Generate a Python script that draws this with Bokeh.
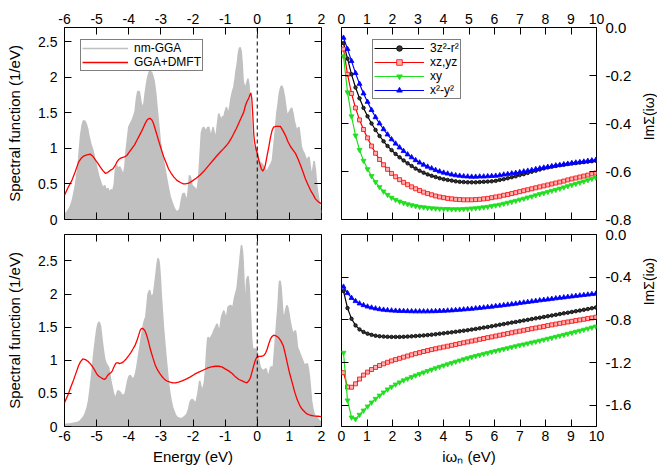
import math
from bokeh.plotting import figure
from bokeh.layouts import gridplot
from bokeh.models import (Range1d, LinearAxis, FixedTicker, CustomJSTickFormatter,
                          CustomLabelingPolicy, Span, Legend, LegendItem, Label,
                          ColumnDataSource)
from bokeh.embed import file_html
from bokeh.resources import INLINE

FONT = "Liberation Sans"

# ---------------- data ----------------
energy_ticks = [-6, -5, -4, -3, -2, -1, 0, 1, 2]
dos_ticks = [0, 0.5, 1, 1.5, 2, 2.5]
freq_ticks = [0, 1, 2, 3, 4, 5, 6, 7, 8, 9, 10]
sigma_ticks_top = [0.0, -0.2, -0.4, -0.6, -0.8]
sigma_ticks_bottom = [0.0, -0.4, -0.8, -1.2, -1.6]

# top panel: nm-GGA spectral function (energy, value)
nm_gga_top = [
    (-6.0, 0.07), (-5.9, 0.12), (-5.82, 0.18), (-5.75, 0.28), (-5.67, 0.46), (-5.6, 0.68),
    (-5.56, 0.85), (-5.5, 1.18), (-5.45, 1.33), (-5.41, 1.39), (-5.36, 1.38), (-5.33, 1.35),
    (-5.28, 1.28), (-5.25, 1.2), (-5.18, 1.06), (-5.12, 0.98), (-5.06, 0.86), (-5.0, 0.74),
    (-4.94, 0.62), (-4.89, 0.55), (-4.84, 0.48), (-4.8, 0.44), (-4.75, 0.48), (-4.7, 0.41),
    (-4.65, 0.44), (-4.6, 0.38), (-4.55, 0.42), (-4.5, 0.4), (-4.45, 0.5), (-4.42, 0.68),
    (-4.38, 0.76), (-4.33, 0.72), (-4.28, 0.74), (-4.22, 0.68), (-4.17, 0.62), (-4.12, 0.75),
    (-4.08, 0.98), (-4.0, 1.3), (-3.95, 1.35), (-3.9, 1.39), (-3.85, 1.45), (-3.8, 1.53),
    (-3.76, 1.7), (-3.72, 1.8), (-3.67, 1.8), (-3.62, 1.65), (-3.57, 1.57), (-3.53, 1.62),
    (-3.49, 1.77), (-3.45, 1.9), (-3.41, 2.0), (-3.36, 2.08), (-3.32, 2.08), (-3.28, 2.06),
    (-3.24, 2.0), (-3.21, 1.95), (-3.16, 1.78), (-3.12, 1.58), (-3.07, 1.35), (-3.02, 1.11),
    (-2.97, 0.95), (-2.92, 0.83), (-2.86, 0.68), (-2.81, 0.55), (-2.76, 0.43), (-2.71, 0.32),
    (-2.65, 0.24), (-2.6, 0.18), (-2.55, 0.13), (-2.5, 0.11), (-2.45, 0.12), (-2.41, 0.15),
    (-2.36, 0.28), (-2.32, 0.36), (-2.27, 0.37), (-2.23, 0.31), (-2.19, 0.25), (-2.15, 0.4),
    (-2.11, 0.62), (-2.08, 0.6), (-2.03, 0.48), (-1.98, 0.46), (-1.92, 0.43), (-1.875, 0.41),
    (-1.83, 0.55), (-1.79, 0.83), (-1.74, 1.22), (-1.7, 1.28), (-1.67, 1.3), (-1.62, 1.26),
    (-1.58, 1.25), (-1.55, 1.29), (-1.51, 1.3), (-1.47, 1.22), (-1.44, 1.16), (-1.4, 1.25),
    (-1.375, 1.3), (-1.33, 1.2), (-1.3, 1.11), (-1.25, 1.3), (-1.2, 1.49), (-1.16, 1.44),
    (-1.125, 1.39), (-1.08, 1.45), (-1.04, 1.44), (-1.0, 1.52), (-0.96, 1.58), (-0.92, 1.52),
    (-0.89, 1.49), (-0.85, 1.6), (-0.81, 1.72), (-0.77, 1.8), (-0.73, 1.86), (-0.69, 1.98),
    (-0.66, 2.09), (-0.62, 2.2), (-0.59, 2.33), (-0.56, 2.4), (-0.53, 2.42), (-0.5, 2.36),
    (-0.47, 2.2), (-0.44, 1.95), (-0.4, 1.88), (-0.36, 1.86), (-0.32, 1.93), (-0.29, 1.98),
    (-0.26, 1.9), (-0.23, 1.72), (-0.2, 1.45), (-0.17, 1.25), (-0.13, 1.05), (-0.09, 1.0),
    (-0.05, 1.02), (0.0, 0.97), (0.05, 0.83), (0.1, 0.8), (0.15, 0.78), (0.21, 0.74),
    (0.25, 0.7), (0.29, 0.67), (0.33, 0.7), (0.375, 0.74), (0.42, 0.78), (0.47, 0.83),
    (0.52, 1.05), (0.57, 1.3), (0.61, 1.5), (0.65, 1.63), (0.69, 1.78), (0.73, 1.86),
    (0.76, 1.88), (0.8, 1.84), (0.85, 1.72), (0.9, 1.55), (0.94, 1.44), (0.98, 1.5),
    (1.02, 1.53), (1.07, 1.57), (1.11, 1.5), (1.15, 1.39), (1.2, 1.3), (1.23, 1.25),
    (1.27, 1.28), (1.3, 1.3), (1.34, 1.15), (1.375, 1.02), (1.42, 0.96), (1.46, 0.93),
    (1.5, 0.88), (1.54, 0.83), (1.58, 0.86), (1.61, 0.88), (1.65, 0.75), (1.69, 0.6),
    (1.73, 0.7), (1.77, 0.82), (1.81, 0.7), (1.86, 0.45), (1.92, 0.27), (1.96, 0.15),
    (2.0, 0.08),
]

# top panel: GGA+DMFT spectral function
dmft_top = [
    (-6.0, 0.34), (-5.9, 0.44), (-5.77, 0.55), (-5.66, 0.68), (-5.56, 0.81), (-5.48, 0.86),
    (-5.41, 0.89), (-5.3, 0.91), (-5.2, 0.92), (-5.12, 0.89), (-5.04, 0.84), (-4.96, 0.79),
    (-4.89, 0.74), (-4.81, 0.69), (-4.73, 0.65), (-4.66, 0.66), (-4.58, 0.69), (-4.5, 0.71),
    (-4.42, 0.76), (-4.37, 0.81), (-4.32, 0.84), (-4.26, 0.86), (-4.21, 0.87), (-4.13, 0.88),
    (-4.06, 0.9), (-3.98, 0.95), (-3.9, 1.0), (-3.82, 1.05), (-3.75, 1.11), (-3.67, 1.18),
    (-3.59, 1.25), (-3.51, 1.33), (-3.43, 1.4), (-3.37, 1.42), (-3.33, 1.42), (-3.28, 1.4),
    (-3.23, 1.35), (-3.15, 1.23), (-3.07, 1.11), (-2.99, 0.99), (-2.91, 0.88), (-2.83, 0.79),
    (-2.76, 0.71), (-2.68, 0.65), (-2.6, 0.6), (-2.5, 0.55), (-2.39, 0.52), (-2.3, 0.5),
    (-2.24, 0.5), (-2.13, 0.51), (-2.03, 0.54), (-1.9, 0.58), (-1.77, 0.63), (-1.64, 0.69),
    (-1.51, 0.76), (-1.38, 0.83), (-1.25, 0.9), (-1.15, 0.95), (-1.04, 1.0), (-0.96, 1.04),
    (-0.89, 1.08), (-0.81, 1.14), (-0.73, 1.21), (-0.65, 1.28), (-0.58, 1.35), (-0.5, 1.43),
    (-0.42, 1.51), (-0.37, 1.6), (-0.32, 1.66), (-0.27, 1.7), (-0.23, 1.75), (-0.2, 1.78),
    (-0.17, 1.7), (-0.14, 1.48), (-0.11, 1.21), (-0.08, 1.08), (-0.04, 0.99), (0.0, 0.93),
    (0.04, 0.85), (0.08, 0.78), (0.13, 0.71), (0.17, 0.68), (0.21, 0.71), (0.25, 0.76),
    (0.3, 0.88), (0.36, 1.02), (0.41, 1.15), (0.46, 1.25), (0.51, 1.3), (0.57, 1.31),
    (0.65, 1.31), (0.72, 1.31), (0.8, 1.25), (0.88, 1.18), (0.95, 1.1), (1.03, 1.03),
    (1.11, 0.98), (1.19, 0.93), (1.27, 0.85), (1.35, 0.76), (1.43, 0.66), (1.5, 0.57),
    (1.58, 0.49), (1.66, 0.41), (1.74, 0.35), (1.81, 0.29), (1.9, 0.25), (2.0, 0.22),
]

# bottom panel: nm-GGA spectral function
nm_gga_bottom = [
    (-6.0, 0.03), (-5.8, 0.04), (-5.6, 0.06), (-5.5, 0.09), (-5.4, 0.15), (-5.36, 0.19),
    (-5.3, 0.28), (-5.25, 0.39), (-5.2, 0.58), (-5.15, 0.8), (-5.1, 1.05), (-5.04, 1.3),
    (-5.0, 1.45), (-4.96, 1.55), (-4.92, 1.58), (-4.88, 1.52), (-4.84, 1.35), (-4.79, 1.15),
    (-4.74, 1.0), (-4.7, 0.95), (-4.66, 0.92), (-4.63, 0.9), (-4.59, 0.8), (-4.56, 0.7),
    (-4.51, 0.58), (-4.47, 0.49), (-4.43, 0.45), (-4.4, 0.44), (-4.37, 0.5), (-4.34, 0.54),
    (-4.3, 0.53), (-4.27, 0.52), (-4.22, 0.48), (-4.18, 0.47), (-4.14, 0.48), (-4.11, 0.5),
    (-4.07, 0.6), (-4.03, 0.7), (-3.99, 0.76), (-3.95, 0.77), (-3.91, 0.74), (-3.88, 0.72),
    (-3.85, 0.73), (-3.82, 0.75), (-3.78, 0.82), (-3.75, 0.9), (-3.71, 1.02), (-3.67, 1.15),
    (-3.64, 1.25), (-3.61, 1.35), (-3.57, 1.45), (-3.54, 1.55), (-3.5, 1.62), (-3.47, 1.65),
    (-3.43, 1.85), (-3.4, 2.0), (-3.35, 2.06), (-3.32, 2.0), (-3.3, 1.96), (-3.27, 1.97),
    (-3.23, 2.0), (-3.19, 2.15), (-3.15, 2.31), (-3.12, 2.45), (-3.09, 2.54), (-3.06, 2.5),
    (-3.04, 2.41), (-3.01, 2.2), (-2.99, 2.0), (-2.95, 1.72), (-2.92, 1.5), (-2.87, 1.22),
    (-2.83, 1.0), (-2.79, 0.8), (-2.76, 0.65), (-2.72, 0.5), (-2.68, 0.39), (-2.64, 0.3),
    (-2.6, 0.24), (-2.55, 0.18), (-2.5, 0.14), (-2.45, 0.13), (-2.4, 0.12), (-2.35, 0.12),
    (-2.29, 0.14), (-2.24, 0.16), (-2.19, 0.19), (-2.14, 0.26), (-2.09, 0.37), (-2.04, 0.41),
    (-2.0, 0.4), (-1.96, 0.37), (-1.93, 0.34), (-1.89, 0.4), (-1.85, 0.49), (-1.82, 0.6),
    (-1.79, 0.69), (-1.76, 0.62), (-1.72, 0.54), (-1.69, 0.58), (-1.65, 0.65), (-1.61, 0.85),
    (-1.58, 1.1), (-1.55, 1.3), (-1.53, 1.35), (-1.5, 1.33), (-1.46, 1.33), (-1.42, 1.37),
    (-1.385, 1.4), (-1.35, 1.45), (-1.32, 1.48), (-1.28, 1.52), (-1.25, 1.55), (-1.21, 1.48),
    (-1.18, 1.4), (-1.15, 1.52), (-1.115, 1.65), (-1.08, 1.7), (-1.04, 1.75), (-1.0, 1.68),
    (-0.97, 1.6), (-0.94, 1.7), (-0.91, 1.8), (-0.87, 1.82), (-0.83, 1.83), (-0.79, 1.81),
    (-0.76, 1.8), (-0.73, 1.88), (-0.7, 1.96), (-0.66, 2.03), (-0.625, 2.1), (-0.59, 2.28),
    (-0.55, 2.46), (-0.52, 2.62), (-0.49, 2.74), (-0.46, 2.65), (-0.44, 2.51), (-0.41, 2.15),
    (-0.385, 1.8), (-0.36, 1.95), (-0.33, 2.21), (-0.3, 2.26), (-0.28, 2.26), (-0.25, 2.1),
    (-0.23, 1.9), (-0.2, 1.6), (-0.18, 1.35), (-0.15, 1.2), (-0.125, 1.15), (-0.09, 1.17),
    (-0.05, 1.17), (0.0, 1.12), (0.05, 1.0), (0.09, 0.9), (0.125, 0.87), (0.17, 0.85),
    (0.21, 0.85), (0.25, 0.87), (0.28, 0.87), (0.31, 0.8), (0.34, 0.75), (0.38, 0.82),
    (0.42, 0.9), (0.46, 0.9), (0.5, 0.9), (0.53, 1.1), (0.57, 1.35), (0.61, 1.6),
    (0.65, 1.85), (0.67, 2.05), (0.69, 2.18), (0.71, 2.2), (0.74, 2.11), (0.77, 1.9),
    (0.8, 1.7), (0.82, 1.66), (0.85, 1.65), (0.88, 1.75), (0.92, 1.83), (0.95, 1.8),
    (0.99, 1.7), (1.02, 1.6), (1.06, 1.5), (1.09, 1.44), (1.125, 1.4), (1.16, 1.43),
    (1.19, 1.45), (1.22, 1.35), (1.25, 1.2), (1.29, 1.15), (1.33, 1.1), (1.37, 1.05),
    (1.41, 1.0), (1.45, 0.95), (1.48, 0.92), (1.52, 0.94), (1.56, 0.95), (1.59, 0.88),
    (1.625, 0.75), (1.66, 0.56), (1.69, 0.39), (1.73, 0.27), (1.77, 0.19), (1.82, 0.15),
    (1.875, 0.12), (1.93, 0.09), (1.98, 0.07), (2.0, 0.06),
]

# bottom panel: GGA+DMFT spectral function
dmft_bottom = [
    (-6.0, 0.36), (-5.88, 0.49), (-5.8, 0.6), (-5.72, 0.7), (-5.64, 0.81), (-5.56, 0.92),
    (-5.5, 0.98), (-5.43, 1.02), (-5.35, 1.01), (-5.28, 0.99), (-5.2, 0.95), (-5.15, 0.92),
    (-5.07, 0.86), (-4.99, 0.79), (-4.93, 0.76), (-4.87, 0.74), (-4.8, 0.72), (-4.76, 0.71),
    (-4.71, 0.73), (-4.66, 0.77), (-4.6, 0.8), (-4.56, 0.81), (-4.51, 0.84), (-4.47, 0.89),
    (-4.43, 0.93), (-4.39, 0.96), (-4.33, 0.96), (-4.29, 0.95), (-4.22, 0.96), (-4.16, 0.98),
    (-4.08, 1.02), (-4.0, 1.07), (-3.93, 1.12), (-3.87, 1.17), (-3.8, 1.23), (-3.75, 1.29),
    (-3.69, 1.38), (-3.64, 1.46), (-3.6, 1.48), (-3.56, 1.48), (-3.5, 1.45), (-3.45, 1.39),
    (-3.39, 1.29), (-3.33, 1.17), (-3.25, 1.04), (-3.17, 0.92), (-3.1, 0.85), (-3.02, 0.79),
    (-2.94, 0.74), (-2.86, 0.7), (-2.78, 0.68), (-2.71, 0.67), (-2.63, 0.66), (-2.55, 0.66),
    (-2.45, 0.67), (-2.34, 0.69), (-2.2, 0.72), (-2.08, 0.75), (-1.95, 0.79), (-1.82, 0.82),
    (-1.69, 0.85), (-1.56, 0.88), (-1.43, 0.9), (-1.3, 0.91), (-1.2, 0.91), (-1.1, 0.9),
    (-1.0, 0.87), (-0.89, 0.84), (-0.78, 0.8), (-0.68, 0.75), (-0.57, 0.71), (-0.47, 0.69),
    (-0.39, 0.67), (-0.32, 0.66), (-0.26, 0.69), (-0.21, 0.74), (-0.16, 0.83), (-0.11, 0.92),
    (-0.06, 1.0), (-0.02, 1.04), (0.05, 1.06), (0.12, 1.06), (0.2, 1.07), (0.26, 1.11),
    (0.31, 1.17), (0.36, 1.25), (0.41, 1.32), (0.46, 1.36), (0.51, 1.38), (0.58, 1.37),
    (0.67, 1.34), (0.74, 1.29), (0.81, 1.22), (0.87, 1.1), (0.93, 0.97), (1.01, 0.8),
    (1.09, 0.66), (1.16, 0.53), (1.24, 0.41), (1.32, 0.32), (1.4, 0.26), (1.48, 0.22),
    (1.55, 0.19), (1.65, 0.17), (1.76, 0.16), (1.88, 0.155), (2.0, 0.15),
]

# Matsubara frequencies (eV)
matsubara = [
    0.079, 0.236, 0.393, 0.550, 0.707, 0.864, 1.021, 1.178, 1.335, 1.492, 1.649, 1.806,
    1.963, 2.121, 2.278, 2.435, 2.592, 2.749, 2.906, 3.063, 3.220, 3.377, 3.534, 3.691,
    3.848, 4.006, 4.163, 4.320, 4.477, 4.634, 4.791, 4.948, 5.105, 5.262, 5.419, 5.576,
    5.733, 5.890, 6.048, 6.205, 6.362, 6.519, 6.676, 6.833, 6.990, 7.147, 7.304, 7.461,
    7.618, 7.775, 7.933, 8.090, 8.247, 8.404, 8.561, 8.718, 8.875, 9.032, 9.189, 9.346,
    9.503, 9.660, 9.818, 9.975,
]

# top panel ImSigma
sig_top_3z2 = [
    -0.065, -0.130, -0.195, -0.250, -0.295, -0.335, -0.370, -0.400, -0.427, -0.452, -0.474, -0.494,
    -0.511, -0.527, -0.541, -0.554, -0.566, -0.577, -0.588, -0.597, -0.605, -0.612, -0.618, -0.623,
    -0.628, -0.632, -0.635, -0.638, -0.641, -0.643, -0.644, -0.645, -0.645, -0.645, -0.644, -0.643,
    -0.642, -0.641, -0.639, -0.635, -0.632, -0.628, -0.624, -0.620, -0.615, -0.611, -0.606, -0.601,
    -0.597, -0.592, -0.587, -0.583, -0.580, -0.577, -0.574, -0.572, -0.569, -0.567, -0.565, -0.563,
    -0.561, -0.559, -0.557, -0.555,
]
sig_top_xzyz = [
    -0.090, -0.195, -0.275, -0.335, -0.385, -0.425, -0.460, -0.494, -0.524, -0.550, -0.572, -0.591,
    -0.608, -0.622, -0.634, -0.645, -0.655, -0.664, -0.672, -0.679, -0.686, -0.692, -0.697, -0.702,
    -0.706, -0.709, -0.712, -0.714, -0.716, -0.717, -0.718, -0.718, -0.718, -0.717, -0.716, -0.714,
    -0.712, -0.709, -0.706, -0.703, -0.699, -0.696, -0.692, -0.688, -0.684, -0.680, -0.676, -0.672,
    -0.668, -0.664, -0.660, -0.656, -0.652, -0.648, -0.644, -0.640, -0.635, -0.631, -0.627, -0.623,
    -0.619, -0.615, -0.610, -0.606,
]
sig_top_xy = [
    -0.120, -0.270, -0.370, -0.450, -0.510, -0.555, -0.590, -0.619, -0.644, -0.665, -0.683, -0.697,
    -0.709, -0.718, -0.725, -0.731, -0.736, -0.740, -0.744, -0.747, -0.749, -0.751, -0.753, -0.754,
    -0.755, -0.756, -0.756, -0.757, -0.757, -0.757, -0.756, -0.755, -0.754, -0.753, -0.751, -0.749,
    -0.747, -0.744, -0.741, -0.738, -0.734, -0.730, -0.726, -0.722, -0.717, -0.713, -0.708, -0.704,
    -0.699, -0.694, -0.690, -0.685, -0.680, -0.676, -0.671, -0.666, -0.661, -0.656, -0.651, -0.646,
    -0.641, -0.636, -0.630, -0.625,
]
sig_top_x2y2 = [
    -0.043, -0.090, -0.140, -0.190, -0.235, -0.275, -0.310, -0.344, -0.374, -0.400, -0.424, -0.446,
    -0.466, -0.484, -0.500, -0.515, -0.529, -0.541, -0.553, -0.563, -0.572, -0.580, -0.587, -0.594,
    -0.600, -0.605, -0.609, -0.613, -0.616, -0.618, -0.620, -0.621, -0.622, -0.622, -0.621, -0.621,
    -0.620, -0.619, -0.618, -0.616, -0.613, -0.611, -0.608, -0.606, -0.603, -0.600, -0.597, -0.594,
    -0.590, -0.587, -0.584, -0.581, -0.578, -0.575, -0.573, -0.570, -0.568, -0.565, -0.563, -0.561,
    -0.559, -0.556, -0.554, -0.552,
]

# bottom panel ImSigma
sig_bot_3z2 = [
    -0.530, -0.690, -0.790, -0.852, -0.890, -0.914, -0.930, -0.941, -0.949, -0.954, -0.957, -0.959,
    -0.960, -0.960, -0.960, -0.959, -0.957, -0.955, -0.952, -0.949, -0.946, -0.943, -0.939, -0.935,
    -0.930, -0.926, -0.921, -0.917, -0.912, -0.907, -0.902, -0.897, -0.891, -0.885, -0.879, -0.873,
    -0.867, -0.860, -0.853, -0.846, -0.840, -0.833, -0.826, -0.820, -0.813, -0.806, -0.800, -0.793,
    -0.786, -0.780, -0.773, -0.766, -0.759, -0.753, -0.746, -0.739, -0.733, -0.726, -0.719, -0.713,
    -0.706, -0.699, -0.691, -0.684,
]
sig_bot_xzyz = [
    -1.295, -1.430, -1.432, -1.400, -1.355, -1.318, -1.290, -1.266, -1.246, -1.228, -1.213, -1.198,
    -1.185, -1.173, -1.161, -1.150, -1.139, -1.128, -1.117, -1.107, -1.097, -1.088, -1.079, -1.071,
    -1.063, -1.055, -1.047, -1.039, -1.031, -1.023, -1.015, -1.007, -0.999, -0.991, -0.983, -0.975,
    -0.967, -0.960, -0.952, -0.944, -0.936, -0.929, -0.921, -0.913, -0.906, -0.898, -0.891, -0.883,
    -0.876, -0.869, -0.862, -0.854, -0.847, -0.840, -0.833, -0.827, -0.820, -0.814, -0.807, -0.801,
    -0.795, -0.788, -0.782, -0.776,
]
sig_bot_xy = [
    -1.108, -1.555, -1.715, -1.730, -1.690, -1.650, -1.612, -1.575, -1.540, -1.510, -1.480, -1.452,
    -1.428, -1.406, -1.386, -1.367, -1.351, -1.336, -1.321, -1.307, -1.293, -1.279, -1.266, -1.253,
    -1.240, -1.228, -1.216, -1.204, -1.192, -1.181, -1.170, -1.159, -1.149, -1.139, -1.129, -1.119,
    -1.110, -1.101, -1.092, -1.083, -1.074, -1.065, -1.056, -1.047, -1.038, -1.030, -1.021, -1.012,
    -1.004, -0.995, -0.986, -0.977, -0.968, -0.958, -0.949, -0.940, -0.930, -0.921, -0.911, -0.902,
    -0.892, -0.882, -0.872, -0.862,
]
sig_bot_x2y2 = [
    -0.490, -0.550, -0.595, -0.625, -0.647, -0.663, -0.676, -0.686, -0.694, -0.701, -0.706, -0.710,
    -0.713, -0.715, -0.717, -0.718, -0.719, -0.720, -0.721, -0.721, -0.721, -0.721, -0.720, -0.719,
    -0.717, -0.716, -0.714, -0.712, -0.709, -0.706, -0.703, -0.700, -0.697, -0.693, -0.689, -0.685,
    -0.681, -0.677, -0.672, -0.668, -0.663, -0.658, -0.654, -0.649, -0.643, -0.638, -0.633, -0.628,
    -0.623, -0.618, -0.613, -0.609, -0.604, -0.599, -0.594, -0.590, -0.585, -0.581, -0.576, -0.572,
    -0.568, -0.564, -0.559, -0.555,
]

orbital_labels = ["3z\u00b2-r\u00b2", "xz,yz", "xy", "x\u00b2-y\u00b2"]
orbital_colors = ["#000000", "#ff0000", "#1ee01e", "#0000ff"]
orbital_markers = ["circle", "square", "inverted_triangle", "triangle"]
orbital_fills = ["#333333", "#ffb0b0", "#1ee01e", "#0000ff"]
orbital_sizes = [3.5, 4, 5, 5]

# ---------------- helpers ----------------
plain_fmt = CustomJSTickFormatter(code="return tick.toString();")
fixed1_fmt = CustomJSTickFormatter(code="return tick.toFixed(1);")


def style_axis(ax, ticks, show, fmt=None, standoff=4):
    ax.ticker = FixedTicker(ticks=ticks)
    if fmt is not None:
        ax.formatter = fmt
    ax.axis_line_color = None
    ax.major_tick_in = 7
    ax.major_tick_out = 0
    ax.major_tick_line_color = "black"
    ax.minor_tick_line_color = None
    ax.major_label_text_font = FONT
    ax.major_label_text_color = "black"
    ax.axis_label_text_font = FONT
    ax.axis_label_text_font_style = "normal"
    ax.axis_label_text_font_size = "15px"
    ax.axis_label_text_color = "black"
    if show:
        ax.major_label_text_font_size = "14px"
        ax.major_label_standoff = standoff
    else:
        ax.major_label_text_font_size = "1px"
        ax.major_label_standoff = 0
        ax.major_label_policy = CustomLabelingPolicy(code="return [];")


def make_fig(width, height, xr, yr, borders, x_loc, y_loc):
    l, r, t, b = borders
    p = figure(width=width, height=height, x_range=Range1d(*xr), y_range=Range1d(*yr),
               x_axis_location=x_loc, y_axis_location=y_loc,
               output_backend="svg", toolbar_location=None,
               min_border_left=l, min_border_right=r, min_border_top=t, min_border_bottom=b)
    p.grid.visible = False
    p.outline_line_color = "black"
    p.outline_line_width = 1
    p.background_fill_color = "white"
    p.border_fill_color = "white"
    return p


def style_legend(lg, loc, glyph_w):
    lg.location = loc
    lg.label_text_font = FONT
    lg.label_text_font_size = "12px"
    lg.label_text_color = "black"
    lg.border_line_color = "black"
    lg.border_line_width = 1
    lg.background_fill_alpha = 0
    lg.padding = 1
    lg.spacing = 0
    lg.margin = 0
    lg.glyph_width = glyph_w
    lg.glyph_height = 14
    lg.label_height = 14
    lg.label_standoff = 6


LW, RW, SW = 331, 306, 20
TH, BH = 226, 249
L_BORD = (64, 10)
R_BORD = (10, 41)
T_BORD = (27, 7)
B_BORD = (8, 49)
FRAME_H = 192


def spectral_panel(height, vbord, ymax, nm, dm, x_loc, legend):
    p = make_fig(LW, height, (-6, 2), (0, ymax), L_BORD + vbord, x_loc, "left")
    e_nm = [a for a, _ in nm]
    v_nm = [b for _, b in nm]
    e_dm = [a for a, _ in dm]
    v_dm = [b for _, b in dm]
    src_nm = ColumnDataSource(dict(x=e_nm, y=v_nm))
    src_dm = ColumnDataSource(dict(x=e_dm, y=v_dm))
    p.varea(x="x", y1=0, y2="y", source=src_nm, fill_color="#c0c0c0")
    r_nm = p.line("x", "y", source=src_nm, line_color="#c0c0c0", line_width=1.5)
    p.add_layout(Span(location=0, dimension="height", line_color="black",
                      line_dash="4 3", line_width=1))
    r_dm = p.line("x", "y", source=src_dm, line_color="#ff0000", line_width=1.3)
    style_axis(p.xaxis[0], energy_ticks, True, plain_fmt, 4)
    style_axis(p.yaxis[0], dos_ticks, True, plain_fmt, 7)
    p.yaxis[0].axis_label = "Spectral function (1/eV)"
    p.yaxis[0].axis_label_standoff = 12
    if x_loc == "below":
        p.xaxis[0].axis_label = "Energy (eV)"
        p.xaxis[0].axis_label_standoff = 4
    xm = LinearAxis()
    style_axis(xm, energy_ticks, False)
    p.add_layout(xm, "below" if x_loc == "above" else "above")
    ym = LinearAxis()
    style_axis(ym, dos_ticks, False)
    p.add_layout(ym, "right")
    if legend:
        lg = Legend(items=[LegendItem(label="nm-GGA", renderers=[r_nm]),
                           LegendItem(label="GGA+DMFT", renderers=[r_dm])])
        style_legend(lg, (16, FRAME_H - 14 - 30), 46)
        p.add_layout(lg)
    return p


def sigma_panel(height, vbord, ymin, series, yticks, x_loc, legend):
    p = make_fig(RW, height, (0, 10), (ymin, 0), R_BORD + vbord, x_loc, "right")
    items = []
    for lab, ys, col, mk, fc, sz in zip(orbital_labels, series, orbital_colors,
                                        orbital_markers, orbital_fills, orbital_sizes):
        src = ColumnDataSource(dict(x=matsubara, y=ys))
        rl = p.line("x", "y", source=src, line_color=col, line_width=1.2)
        rs = p.scatter("x", "y", source=src, marker=mk, size=sz, line_color=col,
                       fill_color=fc, line_width=0.8)
        items.append(LegendItem(label=lab, renderers=[rl, rs]))
    style_axis(p.xaxis[0], freq_ticks, True, plain_fmt, 4)
    style_axis(p.yaxis[0], yticks, True, fixed1_fmt, 9)
    p.yaxis[0].major_label_text_font_size = "15px"
    if x_loc == "below":
        p.xaxis[0].axis_label = "i\u03c9\u2099 (eV)"
        p.xaxis[0].axis_label_standoff = 4
    xm = LinearAxis()
    style_axis(xm, freq_ticks, False)
    p.add_layout(xm, "below" if x_loc == "above" else "above")
    ym = LinearAxis()
    style_axis(ym, yticks, False)
    p.add_layout(ym, "left")
    if legend:
        lg = Legend(items=items)
        style_legend(lg, (31, FRAME_H - 14 - 58), 50)
        p.add_layout(lg)
    return p


def side_label(height, center_from_bottom):
    # thin strip holding the rotated right-hand axis title
    s = figure(width=SW, height=height, x_range=Range1d(0, 1), y_range=Range1d(0, 1),
               output_backend="svg", toolbar_location=None,
               min_border_left=0, min_border_right=0, min_border_top=0, min_border_bottom=0)
    s.axis.visible = False
    s.grid.visible = False
    s.outline_line_color = None
    s.background_fill_color = "white"
    s.border_fill_color = "white"
    s.add_layout(Label(x=SW / 2 + 1, y=center_from_bottom, x_units="screen", y_units="screen",
                       text="Im\u03a3(i\u03c9)", angle=math.pi / 2, text_align="center",
                       text_baseline="middle", text_font=FONT, text_font_size="14px",
                       text_color="black"))
    return s


p1 = spectral_panel(TH, T_BORD, 2.7, nm_gga_top, dmft_top, "above", True)
p2 = sigma_panel(TH, T_BORD, -0.8, [sig_top_3z2, sig_top_xzyz, sig_top_xy, sig_top_x2y2],
                 sigma_ticks_top, "above", True)
s1 = side_label(TH, TH - (T_BORD[0] + FRAME_H / 2))
p3 = spectral_panel(BH, B_BORD, 2.9, nm_gga_bottom, dmft_bottom, "below", False)
p4 = sigma_panel(BH, B_BORD, -1.8, [sig_bot_3z2, sig_bot_xzyz, sig_bot_xy, sig_bot_x2y2],
                 sigma_ticks_bottom, "below", False)
s2 = side_label(BH, BH - (B_BORD[0] + FRAME_H / 2))

grid = gridplot([[p1, p2, s1], [p3, p4, s2]], toolbar_location=None)

open("out.html", "w").write(file_html(grid, INLINE))
